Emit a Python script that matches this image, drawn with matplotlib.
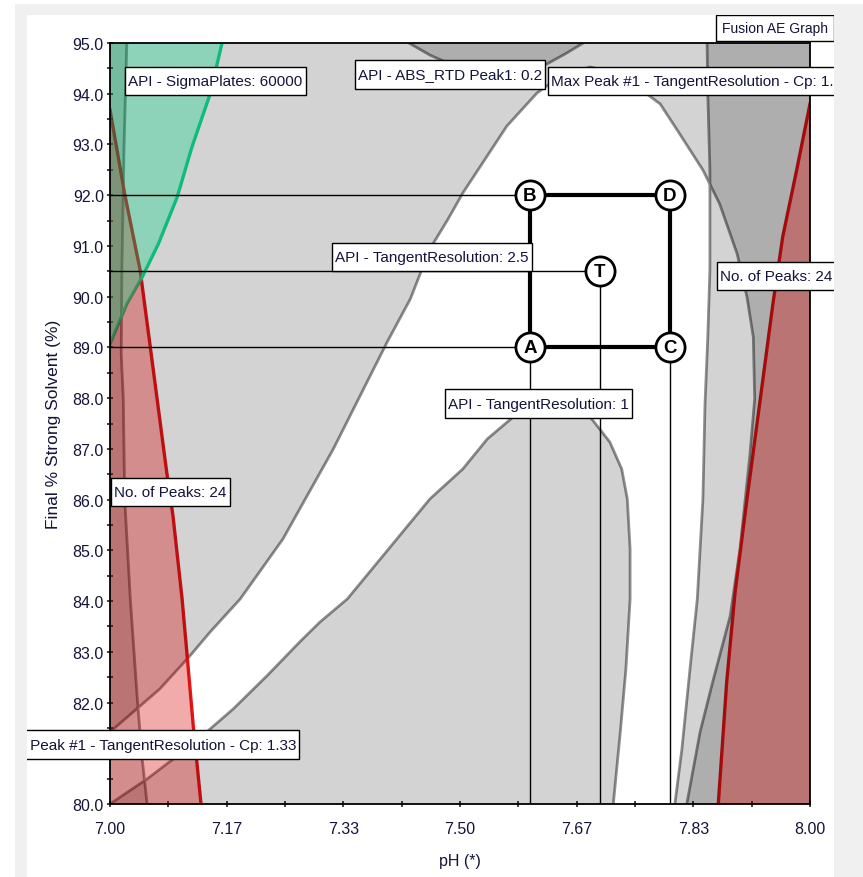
import numpy as np
import matplotlib
matplotlib.use("Agg")
from matplotlib import pyplot as plt
from matplotlib.patches import Rectangle
from matplotlib.path import Path

plt.rcParams['font.family'] = ['Liberation Sans', 'DejaVu Sans']

# boundary of the sweet spot (API - TangentResolution: 2.5), left edge -> over the top -> bottom
arch_ph = [7.0, 7.033, 7.071, 7.114, 7.143, 7.186, 7.247, 7.319, 7.396, 7.429, 7.457, 7.483,
           7.504, 7.536, 7.567, 7.610, 7.646, 7.686, 7.729, 7.767, 7.786, 7.814, 7.847, 7.871,
           7.896, 7.910, 7.919, 7.921, 7.914, 7.900, 7.886, 7.861, 7.843, 7.824]
arch_solv = [81.419, 81.813, 82.267, 82.917, 83.390, 84.041, 85.223, 86.997, 89.107, 89.954,
             90.940, 91.531, 92.043, 92.714, 93.364, 94.015, 94.369, 94.527, 94.389, 93.995,
             93.798, 93.206, 92.497, 91.827, 90.841, 89.994, 89.205, 87.983, 86.859, 85.026,
             83.706, 82.405, 81.419, 80.0]

# API - ABS_RTD Peak1: 0.2 (small lens at the top)
abs_ph = [7.427, 7.457, 7.486, 7.521, 7.557, 7.593, 7.624, 7.650, 7.676]
abs_solv = [95.0, 94.763, 94.586, 94.448, 94.369, 94.408, 94.586, 94.783, 95.0]

# API - TangentResolution: 1 (hill at the bottom)
hill_ph = [7.0, 7.053, 7.096, 7.143, 7.176, 7.224, 7.271, 7.300, 7.339, 7.457, 7.504, 7.539,
           7.576, 7.607, 7.631, 7.660, 7.686, 7.714, 7.731, 7.739, 7.743, 7.743, 7.737, 7.729, 7.719]
hill_solv = [80.0, 80.493, 80.946, 81.478, 81.873, 82.523, 83.193, 83.587, 84.041, 86.012,
             86.603, 87.195, 87.628, 87.904, 87.983, 87.904, 87.628, 87.135, 86.603, 86.012,
             85.026, 84.041, 82.661, 81.419, 80.0]

# Max Peak #1 - TangentResolution - Cp: 1.33 (left and right edges)
cp_left_ph = [7.024, 7.020, 7.017, 7.016, 7.019, 7.021, 7.029, 7.039, 7.046, 7.053]
cp_left_solv = [95.0, 92.911, 90.526, 88.870, 87.983, 86.012, 84.041, 82.070, 80.887, 80.0]
cp_right_ph = [7.853, 7.854, 7.857, 7.857, 7.854, 7.850, 7.847, 7.839, 7.829, 7.817, 7.807]
cp_right_solv = [95.0, 93.995, 92.497, 90.526, 89.205, 87.884, 86.012, 84.041, 82.720, 81.084, 80.0]

# No. of Peaks: 24
peaks_left_ph = [7.0, 7.021, 7.043, 7.057, 7.081, 7.090, 7.103, 7.111, 7.119, 7.130]
peaks_left_solv = [93.679, 92.024, 90.526, 89.067, 86.544, 85.677, 84.041, 82.799, 81.537, 80.0]
peaks_right_ph = [8.0, 7.981, 7.961, 7.947, 7.929, 7.910, 7.893, 7.881, 7.869]
peaks_right_solv = [93.798, 92.497, 91.176, 89.856, 87.983, 86.012, 84.179, 82.405, 80.0]

# API - SigmaPlates: 60000
plates_ph = [7.160, 7.143, 7.117, 7.096, 7.069, 7.046, 7.024, 7.0]
plates_solv = [95.0, 93.995, 92.950, 91.965, 91.038, 90.388, 89.856, 89.067]

# design points
pt_names = ['A', 'B', 'C', 'D', 'T']
pt_ph = [7.6, 7.6, 7.8, 7.8, 7.7]
pt_solv = [89.0, 92.0, 89.0, 92.0, 90.5]

W, H = 863, 878
fig = plt.figure(figsize=(W / 100, H / 100), dpi=100)
ax = fig.add_axes([110 / W, 1 - 805 / H, 700 / W, 761 / H])
ax.set_xlim(7.0, 8.0)
ax.set_ylim(80.0, 95.0)

# contour lines go under the shading so they darken where regions overlap
gline = dict(color='#8f8f8f', lw=2.0, zorder=1)
ax.plot(arch_ph, arch_solv, **gline)
ax.plot(abs_ph, abs_solv, **gline)
ax.plot(hill_ph, hill_solv, **gline)
ax.plot(cp_left_ph, cp_left_solv, **gline)
ax.plot(cp_right_ph, cp_right_solv, **gline)
ax.plot(peaks_left_ph, peaks_left_solv, color='#e01818', lw=2.4, zorder=1.5)
ax.plot(peaks_right_ph, peaks_right_solv, color='#e01818', lw=2.4, zorder=1.5)
ax.plot(plates_ph, plates_solv, color='#18dc96', lw=2.4, zorder=1.5)

# gray shading of failing regions
shade = dict(facecolor='black', alpha=0.173, edgecolor='none', zorder=2)
ax.fill([7.0, 8.0, 8.0] + arch_ph[::-1], [95.0, 95.0, 80.0] + arch_solv[::-1], **shade)
ax.fill(abs_ph, abs_solv, **shade)
ax.fill(hill_ph, hill_solv, **shade)
ax.fill([7.0, 7.0] + cp_left_ph, [80.0, 95.0] + cp_left_solv, **shade)
ax.fill([8.0, 8.0] + cp_right_ph[::-1], [95.0, 80.0] + cp_right_solv[::-1], **shade)

red = dict(facecolor='#d70000', alpha=0.33, edgecolor='none', zorder=3)
ax.fill(peaks_left_ph + [7.0], peaks_left_solv + [80.0], **red)
ax.fill(peaks_right_ph + [8.0], peaks_right_solv + [80.0], **red)
ax.fill(plates_ph + [7.0], plates_solv + [95.0], facecolor='#00d684', alpha=0.33,
        edgecolor='none', zorder=4)

# guide lines from the points to the axes
pts = dict(zip(pt_names, zip(pt_ph, pt_solv)))
for n in ['A', 'B', 'T']:
    ax.plot([7.0, pts[n][0]], [pts[n][1], pts[n][1]], color='black', lw=1.0, zorder=5)
for n in ['A', 'T', 'C']:
    ax.plot([pts[n][0], pts[n][0]], [80.0, pts[n][1]], color='black', lw=1.0, zorder=5)
box = ['A', 'B', 'D', 'C', 'A']
ax.plot([pts[n][0] for n in box], [pts[n][1] for n in box], color='black', lw=3.0, zorder=6)
ax.plot(pt_ph, pt_solv, 'o', ms=21, mfc='white', mec='black', mew=2.0, zorder=7, ls='none')
for n, x, y in zip(pt_names, pt_ph, pt_solv):
    ax.text(x, y, n, ha='center', va='center', fontsize=13.5, fontweight='bold', zorder=8)


# rectangular tag with separate x / y padding (fraction of font size)
def tag_style(fx, fy):
    def style(x0, y0, width, height, mutation_size):
        px, py = fx * mutation_size, fy * mutation_size
        x0, y0 = x0 - px, y0 - py
        x1, y1 = x0 + width + 2 * px, y0 + height + 2 * py
        return Path([(x0, y0), (x1, y0), (x1, y1), (x0, y1), (x0, y0)], closed=True)
    return style


def label(x, y, s, ha='left'):
    ax.text(x, y, s, ha=ha, va='center', fontsize=11, color='#14143a', zorder=10,
            bbox=dict(boxstyle=tag_style(0.2, 0.48), fc='white', ec='black', lw=1.0))


label(7.026, 94.25, 'API - SigmaPlates: 60000')
label(7.354, 94.38, 'API - ABS_RTD Peak1: 0.2')
label(7.630, 94.25, 'Max Peak #1 - TangentResolution - Cp: 1.33')
label(7.598, 90.78, 'API - TangentResolution: 2.5', ha='right')
label(7.871, 90.41, 'No. of Peaks: 24')
label(7.006, 86.15, 'No. of Peaks: 24')
label(7.483, 87.89, 'API - TangentResolution: 1')
label(7.266, 81.17, 'Max Peak #1 - TangentResolution - Cp: 1.33', ha='right')

ax.set_xticks([7.0 + k / 6 for k in range(7)])
ax.set_xticks([7.0 + k / 12 for k in range(13)], minor=True)
ax.set_yticks(np.arange(80.0, 95.5, 1.0))
ax.set_yticks(np.arange(80.0, 95.5, 0.5), minor=True)
ax.xaxis.set_major_formatter(plt.FormatStrFormatter('%.2f'))
ax.yaxis.set_major_formatter(plt.FormatStrFormatter('%.1f'))
ax.tick_params(which='both', direction='inout', length=5, width=1.2, color='#222222')
ax.tick_params(axis='x', pad=10, labelsize=11.5, labelcolor='#14143a')
ax.tick_params(axis='y', pad=2, labelsize=11.5, labelcolor='#14143a')
for sp in ax.spines.values():
    sp.set_linewidth(1.3)
    sp.set_zorder(9)
ax.set_xlabel('pH (*)', fontsize=11.5, color='#14143a', labelpad=12)
ax.set_ylabel('Final % Strong Solvent (%)', fontsize=12.5, color='#14143a', labelpad=8)

fig.text(722 / W, 1 - 29 / H, 'Fusion AE Graph', ha='left', va='center', fontsize=10,
         color='#14143a',
         bbox=dict(boxstyle=tag_style(0.45, 0.4), fc='white', ec='black', lw=1.0))


# window frame around the white panel (also cuts the labels that run over)
def frame(x0, y0, x1, y1, c):
    fig.add_artist(Rectangle((x0 / W, 1 - y1 / H), (x1 - x0) / W, (y1 - y0) / H,
                             transform=fig.transFigure, fc=c, ec='none', zorder=20))


frame(0, 0, 15, H, 'white')
frame(0, 0, W, 5, 'white')
frame(15, 5, 27, H, '#f0f0f0')
frame(15, 5, W, 16, '#f0f0f0')
frame(834, 5, W, H, '#f0f0f0')

fig.savefig('out.png', dpi=100)
